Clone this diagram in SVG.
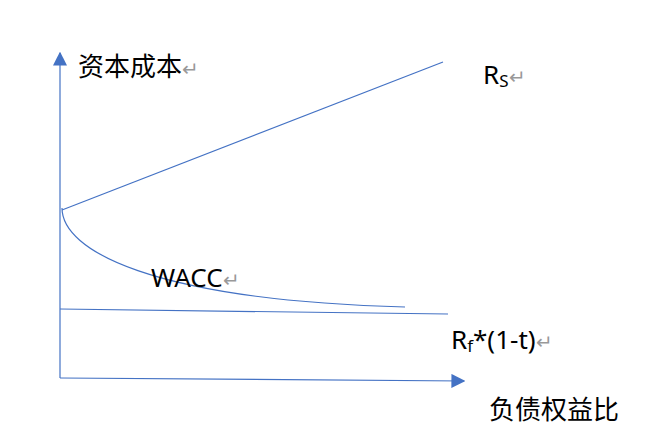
<svg xmlns="http://www.w3.org/2000/svg" width="655" height="434" viewBox="0 0 655 434">
<style>
.ln{stroke:#4472c4;stroke-width:1.2;fill:none}
.t{font-family:"Noto Sans","Noto Sans CJK SC",sans-serif;font-size:26px;fill:#000}
.r{fill:#999}
</style>
<defs><marker id="a" viewBox="0 0 10 10" refX="9" refY="5" markerWidth="14" markerHeight="14" markerUnits="userSpaceOnUse" orient="auto"><path d="M0 0L10 5L0 10Z" fill="#4472c4"/></marker></defs>
<rect width="655" height="434" fill="#fff"/>
<g id="connectors">
<line class="ln" x1="60" y1="378" x2="60" y2="53" marker-end="url(#a)"/>
<line class="ln" x1="60" y1="378" x2="464" y2="381" marker-end="url(#a)"/>
<line class="ln" x1="62" y1="210" x2="443" y2="62"/>
<path class="ln" d="M62 208C62 250 150 300 405 307"/>
<line class="ln" x1="60" y1="309" x2="448" y2="314"/>
</g>
<g id="labels">
<text class="t" x="78" y="76">资本成本<tspan class="r" font-size="20">↵</tspan></text>
<text class="t" x="483" y="84">R<tspan font-size="17" dy="3">S</tspan><tspan class="r" font-size="20" dy="-3">↵</tspan></text>
<text class="t" x="151" y="287">WACC<tspan class="r" font-size="20">↵</tspan></text>
<text class="t" x="451" y="349">R<tspan font-size="17" dy="3">f</tspan><tspan dy="-3">*(1-t)</tspan><tspan class="r" font-size="20">↵</tspan></text>
<text class="t" x="489" y="419">负债权益比</text>
</g>
</svg>
